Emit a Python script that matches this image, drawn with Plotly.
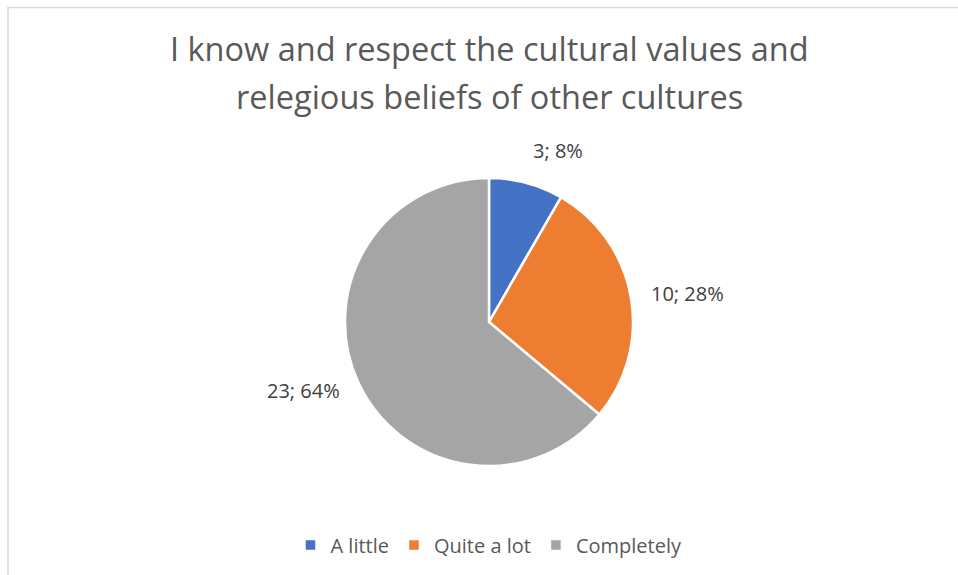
import math
import plotly.graph_objects as go

# Survey responses
categories = ["A little", "Quite a lot", "Completely"]
counts = [3, 10, 23]
colors = ["#4472C4", "#ED7D31", "#A5A5A5"]

title_lines = [
    "I know and respect the cultural values and",
    "relegious beliefs of other cultures",
]

W, H = 958, 575
cx, cy, r = 489, 322, 144
label_gap = 18
FONT = "Open Sans"

fig = go.Figure(
    go.Pie(
        labels=categories,
        values=counts,
        sort=False,
        direction="clockwise",
        rotation=0,
        marker=dict(colors=colors, line=dict(color="white", width=2.5)),
        textinfo="none",
        domain=dict(
            x=[(cx - r) / W, (cx + r) / W],
            y=[(H - cy - r) / H, (H - cy + r) / H],
        ),
        hoverinfo="label+value+percent",
    )
)

# Data labels "value; percent" placed just outside each slice's mid-angle
total = sum(counts)
start = 0.0
for v in counts:
    frac = v / total
    mid = 2 * math.pi * (start + frac / 2)
    start += frac
    s, c = math.sin(mid), math.cos(mid)
    px = cx + (r + label_gap) * s
    py = cy - (r + label_gap) * c
    xanchor = "left" if s > 0.1 else ("right" if s < -0.1 else "center")
    yanchor = "bottom" if c > 0.5 else ("top" if c < -0.5 else "middle")
    fig.add_annotation(
        text=f"{v}; {round(frac * 100)}%",
        xref="paper", yref="paper",
        x=px / W, y=1 - py / H,
        xanchor=xanchor, yanchor=yanchor,
        showarrow=False,
        font=dict(family=FONT, size=20, color="#404040"),
    )

# Two-line chart title
title_y = [49, 97]
for line, y in zip(title_lines, title_y):
    fig.add_annotation(
        text=line,
        xref="paper", yref="paper",
        x=cx / W, y=1 - y / H,
        xanchor="center", yanchor="middle",
        showarrow=False,
        font=dict(family=FONT, size=32.5, color="#595959"),
    )

# Chart area frame (top and left edges visible)
fig.add_shape(
    type="path",
    xref="paper", yref="paper",
    path=f"M {8/W},0 L {8/W},{1-7.5/H} L 1.0,{1-7.5/H}",
    line=dict(color="#D9D9D9", width=1.5),
)

fig.update_layout(
    width=W,
    height=H,
    margin=dict(l=0, r=0, t=0, b=0),
    paper_bgcolor="white",
    plot_bgcolor="white",
    showlegend=True,
    legend=dict(
        orientation="h",
        x=cx / W, xanchor="center",
        y=1 - 545 / H, yanchor="middle",
        font=dict(family=FONT, size=20, color="#595959"),
        itemwidth=30,
        traceorder="normal",
    ),
)

fig.write_html("out.html")
